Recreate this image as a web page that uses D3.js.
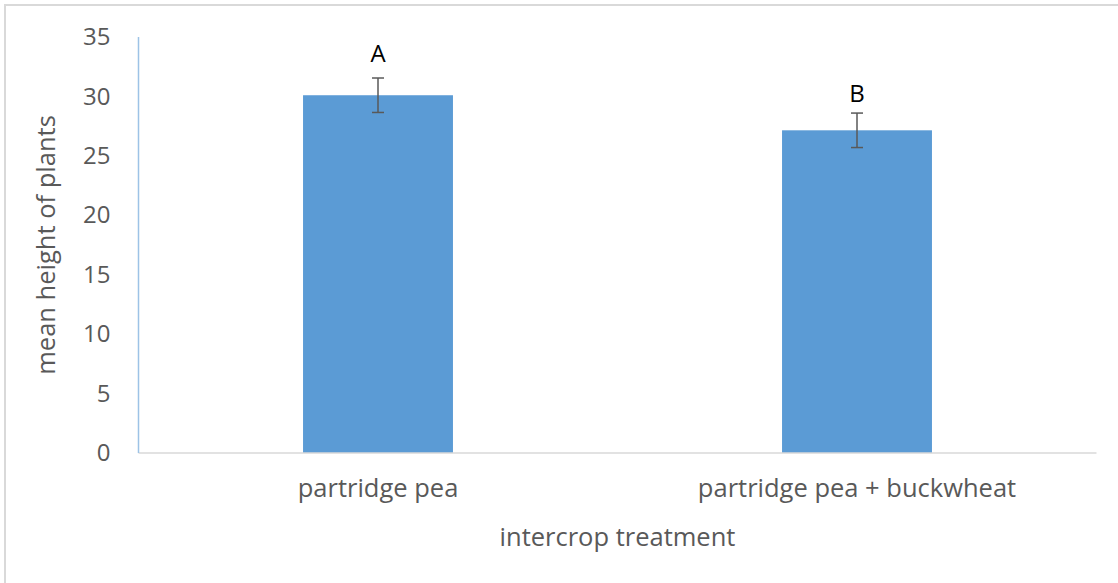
<!DOCTYPE html>
<html>
<head>
<meta charset="utf-8">
<script src="https://cdn.jsdelivr.net/npm/d3@7"></script>
<style>
  html, body { margin: 0; padding: 0; background: #fff; }
  svg { display: block; }
  text { font-family: "Open Sans", sans-serif; }
</style>
</head>
<body>
<svg id="chart" width="1118" height="583"></svg>
<script>
const categories = ["partridge pea", "partridge pea + buckwheat"];
const means = [30.1, 27.15];
const errors = [1.45, 1.45];
const letters = ["A", "B"];
const letterLevels = [33.7, 30.3];
const yTicks = [0, 5, 10, 15, 20, 25, 30, 35];
const yTitle = "mean height of plants";
const xTitle = "intercrop treatment";

const svg = d3.select("#chart");
const W = 1118, H = 583;
const mLeft = 138.5, mRight = 1096.5, mTop = 37, mBottom = 453;

// outer border
svg.append("rect").attr("x", 5).attr("y", 5).attr("width", W).attr("height", H)
  .attr("fill", "#fff").attr("stroke", "#d9d9d9").attr("stroke-width", 2);

const x = d3.scaleBand().domain(categories).range([mLeft, mRight])
  .paddingInner(0.687).paddingOuter(0.3435);
const y = d3.scaleLinear().domain([0, 35]).range([mBottom, mTop]);

// y axis tick labels
const yAxis = d3.axisLeft(y).tickValues(yTicks).tickSize(0).tickPadding(28);
const gy = svg.append("g").attr("transform", `translate(${mLeft},0)`).call(yAxis);
gy.select(".domain").remove();
gy.selectAll("text").attr("fill", "#595959").style("font-size", "24px")
  .style("font-family", "'Open Sans', sans-serif");

// bars
svg.append("g").selectAll("rect").data(categories).join("rect")
  .attr("x", d => x(d))
  .attr("y", (d, i) => y(means[i]))
  .attr("width", x.bandwidth())
  .attr("height", (d, i) => y(0) - y(means[i]))
  .attr("fill", "#5b9bd5");

// baseline
svg.append("line").attr("x1", mLeft).attr("x2", mRight).attr("y1", y(0)).attr("y2", y(0))
  .attr("stroke", "#d9d9d9").attr("stroke-width", 1.5);
// y axis line
svg.append("line").attr("x1", mLeft).attr("x2", mLeft).attr("y1", y(35)).attr("y2", y(0))
  .attr("stroke", "#9dc3e6").attr("stroke-width", 1.5);

// error bars
const eb = svg.append("g").attr("stroke", "#595959").attr("stroke-width", 1.5);
categories.forEach((c, i) => {
  const cx = x(c) + x.bandwidth() / 2;
  const y1 = y(means[i] + errors[i]), y2 = y(means[i] - errors[i]);
  eb.append("line").attr("x1", cx).attr("x2", cx).attr("y1", y1).attr("y2", y2);
  eb.append("line").attr("x1", cx - 6).attr("x2", cx + 6).attr("y1", y1).attr("y2", y1);
  eb.append("line").attr("x1", cx - 6).attr("x2", cx + 6).attr("y1", y2).attr("y2", y2);
});

// letters
svg.append("g").selectAll("text").data(categories).join("text")
  .attr("x", d => x(d) + x.bandwidth() / 2)
  .attr("y", (d, i) => y(letterLevels[i]))
  .attr("text-anchor", "middle").attr("dominant-baseline", "central")
  .attr("fill", "#000").style("font-size", "24px")
  .text((d, i) => letters[i]);

// category labels
const xAxis = d3.axisBottom(x).tickSize(0).tickPadding(26);
const gx = svg.append("g").attr("transform", `translate(0,${mBottom})`).call(xAxis);
gx.select(".domain").remove();
gx.selectAll("text").attr("fill", "#595959").style("font-size", "25.5px")
  .style("font-family", "'Open Sans', sans-serif");

// axis titles
svg.append("text").attr("x", (mLeft + mRight) / 2).attr("y", 536)
  .attr("text-anchor", "middle").attr("dominant-baseline", "central")
  .attr("fill", "#595959").style("font-size", "25.5px").text(xTitle);
svg.append("text").attr("transform", `translate(45,${(mTop + mBottom) / 2}) rotate(-90)`)
  .attr("text-anchor", "middle").attr("dominant-baseline", "central")
  .attr("fill", "#595959").style("font-size", "25.5px").text(yTitle);
</script>
</body>
</html>
